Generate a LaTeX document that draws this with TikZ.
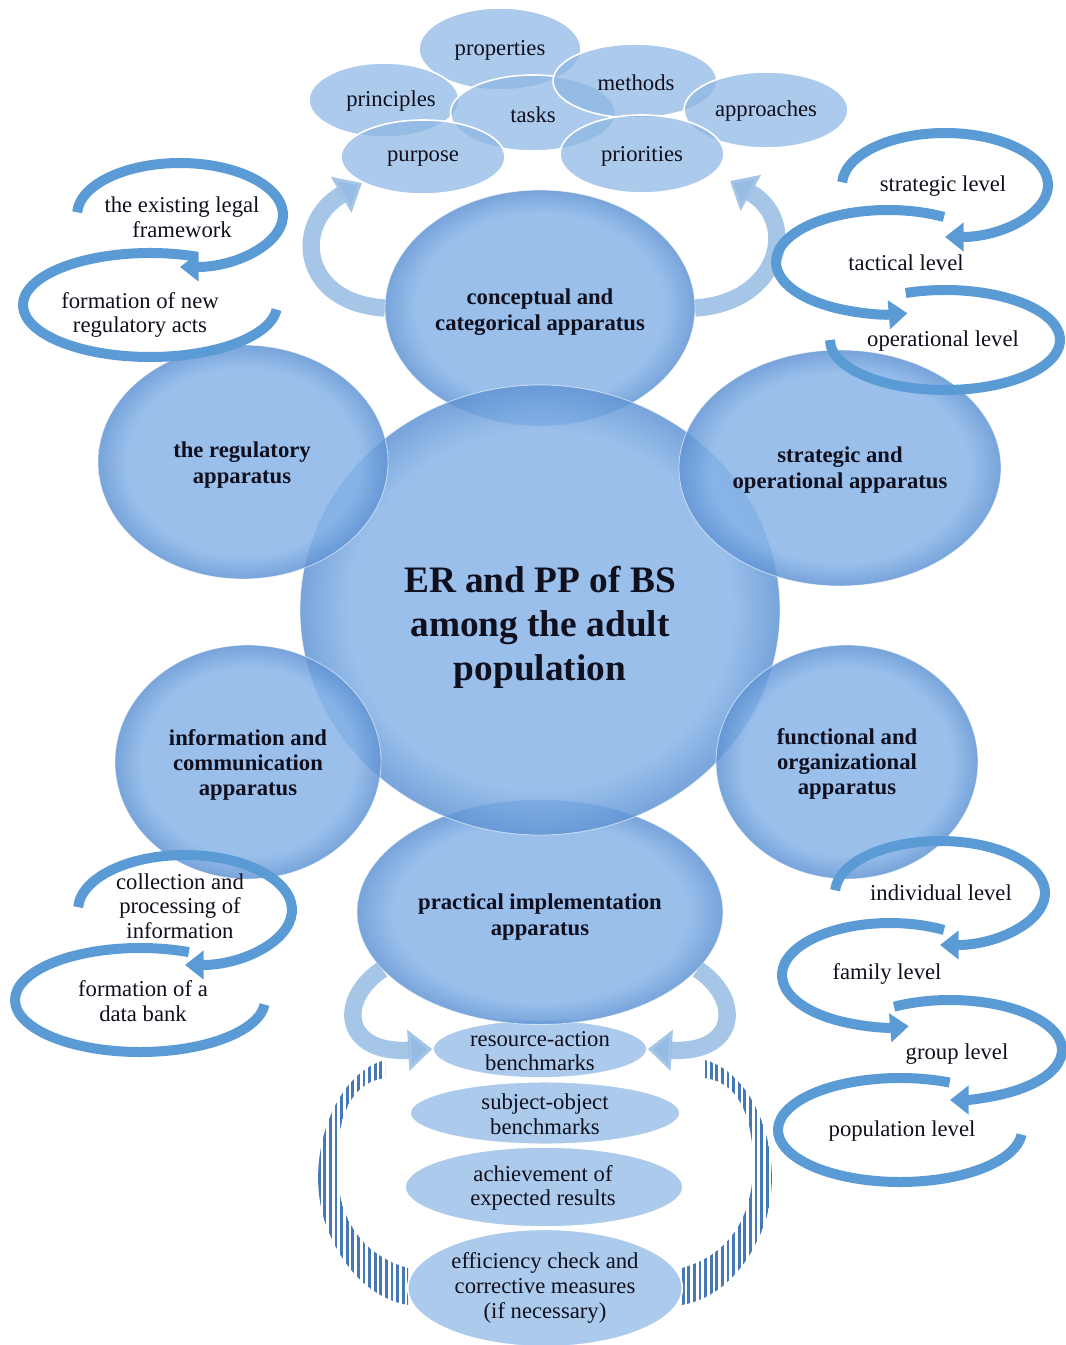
\documentclass[tikz,border=0pt]{standalone}
\usepackage{fontspec}
\setmainfont{Liberation Serif}
\usetikzlibrary{shapes.geometric,arrows.meta,patterns.meta}

\definecolor{bubin}{RGB}{136,180,232}
\definecolor{bubout}{RGB}{96,148,212}
\definecolor{smallfill}{RGB}{140,182,227}
\definecolor{loopblue}{RGB}{91,155,213}
\definecolor{ribbon}{RGB}{150,188,228}
\definecolor{stripe}{RGB}{70,120,185}
\definecolor{inkcol}{RGB}{15,15,30}

\pgfdeclareradialshading{bubble}{\pgfpoint{0bp}{0bp}}{color(0bp)=(bubin); color(20bp)=(bubin); color(25bp)=(bubout); color(50bp)=(bubout)}

\tikzset{
  bigell/.style={ellipse, shade, shading=bubble, fill opacity=0.85, draw=white, draw opacity=0.6, line width=0.6pt, inner sep=0pt},
  smallell/.style={ellipse, fill=smallfill, fill opacity=0.72, draw=white, line width=1.2pt, inner sep=0pt},
  boldtxt/.style={align=center, text=inkcol, font=\bfseries\fontsize{17}{19}\selectfont},
  plaintxt/.style={align=center, text=inkcol, font=\fontsize{17}{18.5}\selectfont},
  looparrow/.style={draw=loopblue, line width=7.5pt, -{Triangle[length=14pt,width=21pt]}},
  loopline/.style={draw=loopblue, line width=7.5pt},
  ribbonarrow/.style={draw=ribbon, draw opacity=0.85, line width=13pt, -{Triangle[length=18pt,width=30pt]}},
  stripes/.style={pattern={Lines[angle=90,distance=4.2pt,line width=2pt]}, pattern color=stripe},
}

\begin{document}
\begin{tikzpicture}[x=0.75pt,y=0.75pt,yscale=-1,xscale=1]
\path[use as bounding box] (0,0) rectangle (1065,1345);

% Ellipse Nodes (top)
\node[smallell, minimum width=121.5pt, minimum height=61.5pt] (properties) at (500,49) {};
\node[smallell, minimum width=112.5pt, minimum height=55.5pt] (principles) at (384,100) {};
\node[smallell, minimum width=123.75pt, minimum height=57pt] (tasks) at (533,113) {};
\node[smallell, minimum width=123pt, minimum height=55.5pt] (methods) at (635,81) {};
\node[smallell, minimum width=123pt, minimum height=57pt] (approaches) at (766,110) {};
\node[smallell, minimum width=123pt, minimum height=55.5pt] (purpose) at (423,157) {};
\node[smallell, minimum width=123pt, minimum height=58.5pt] (priorities) at (642,154) {};
\coordinate (purpose-tip) at (362,183);
\coordinate (prio-tip) at (730,181);

% Connection
\draw[ribbonarrow] (385,308) .. controls +(-85,-5) and +(-70,40) .. (purpose-tip);
\draw[ribbonarrow] (695,308) .. controls +(85,-5) and +(70,40) .. (prio-tip);

% Stripes
\path[stripes] (385,1060) .. controls (330,1075) and (300,1170) .. (330,1235) .. controls (350,1280) and (380,1300) .. (408,1305) -- (408,1268) .. controls (372,1258) and (339,1230) .. (337,1170) .. controls (336,1110) and (355,1082) .. (385,1078) -- cycle;
\path[stripes] (705,1060) .. controls (760,1075) and (790,1170) .. (760,1235) .. controls (740,1280) and (710,1300) .. (682,1305) -- (682,1268) .. controls (718,1258) and (751,1230) .. (753,1170) .. controls (754,1110) and (735,1082) .. (705,1078) -- cycle;

% Ellipse Nodes (bottom)
\node[smallell, minimum width=160.5pt, minimum height=43.5pt] (resact) at (540,1049) {};
\node[smallell, minimum width=202.5pt, minimum height=47pt] (subjobj) at (545,1113) {};
\node[smallell, minimum width=208.5pt, minimum height=60pt] (achieve) at (544,1187) {};
\node[smallell, minimum width=206pt, minimum height=88pt] (effic) at (545,1288) {};

% Ellipse Nodes (apparatus)
\node[bigell, minimum width=274.5pt, minimum height=168.75pt] (practical) at (540,912) {};
% Connection
\draw[ribbonarrow] (practical.200) .. controls +(-45,30) and +(-90,5) .. (resact.west);
\draw[ribbonarrow] (practical.-20) .. controls +(45,30) and +(90,5) .. (resact.east);
\node[bigell, minimum width=232.5pt, minimum height=177pt] (concept) at (540,308) {};
\node[bigell, minimum width=360pt, minimum height=337.5pt] (core) at (540,610) {};
\node[bigell, minimum width=217.5pt, minimum height=175.5pt] (regul) at (243,462) {};
\node[bigell, minimum width=241.5pt, minimum height=177pt] (strat) at (840,468) {};
\node[bigell, minimum width=199.5pt, minimum height=175.5pt] (inform) at (248,762) {};
\node[bigell, minimum width=196.5pt, minimum height=175.5pt] (funct) at (847,762) {};

% Loops
\coordinate (legal-c) at (180,215);
\coordinate (acts-c) at (150,305);
\coordinate (stratlvl-c) at (945,185);
\coordinate (tactlvl-c) at (888,262);
\coordinate (operlvl-c) at (945,340);
\coordinate (collect-c) at (185,910);
\coordinate (databank-c) at (140,1000);
\coordinate (indiv-c) at (940,893);
\coordinate (family-c) at (890,975);
\coordinate (group-c) at (950,1050);
\coordinate (popul-c) at (900,1130);
\draw[loopline] ([shift={(292:127 and 52)}]acts-c) arc[start angle=292, end angle=5, x radius=127, y radius=52];
\draw[looparrow] ([shift={(183:103 and 52)}]legal-c) arc[start angle=183, end angle=450, x radius=103, y radius=52];
\draw[looparrow] ([shift={(183:103 and 52)}]stratlvl-c) arc[start angle=183, end angle=450, x radius=103, y radius=52];
\draw[loopline] ([shift={(250:115 and 50)}]operlvl-c) arc[start angle=250, end angle=540, x radius=115, y radius=50];
\draw[looparrow] ([shift={(300:112 and 52)}]tactlvl-c) arc[start angle=300, end angle=80, x radius=112, y radius=52];
\draw[loopline] ([shift={(293:125 and 52)}]databank-c) arc[start angle=293, end angle=5, x radius=125, y radius=52];
\draw[looparrow] ([shift={(183:107 and 55)}]collect-c) arc[start angle=183, end angle=450, x radius=107, y radius=55];
\draw[looparrow] ([shift={(183:105 and 52)}]indiv-c) arc[start angle=183, end angle=450, x radius=105, y radius=52];
\draw[looparrow] ([shift={(240:112 and 50)}]group-c) arc[start angle=240, end angle=450, x radius=112, y radius=50];
\draw[looparrow] ([shift={(300:108 and 52)}]family-c) arc[start angle=300, end angle=80, x radius=108, y radius=52];
\draw[loopline] ([shift={(294:122 and 52)}]popul-c) arc[start angle=294, end angle=5, x radius=122, y radius=52];

% Text Node
\node[plaintxt] (properties-t) at (500,50) {properties};
\node[plaintxt] (principles-t) at (391,101) {principles};
\node[plaintxt] (tasks-t) at (533,115) {tasks};
\node[plaintxt] (methods-t) at (636,83) {methods};
\node[plaintxt] (approaches-t) at (766,111) {approaches};
\node[plaintxt] (purpose-t) at (423,159) {purpose};
\node[plaintxt] (priorities-t) at (642,156) {priorities};

\node[boldtxt] (concept-t) at (540,312) {conceptual and\\categorical apparatus};
\node[boldtxt] (regul-t) at (242,465) {the regulatory\\apparatus};
\node[boldtxt] (strat-t) at (840,470) {strategic and\\operational apparatus};
\node[boldtxt] (inform-t) at (248,765) {information and\\communication\\apparatus};
\node[boldtxt] (funct-t) at (847,764) {functional and\\organizational\\apparatus};
\node[boldtxt] (practical-t) at (540,917) {practical implementation\\apparatus};
\node[align=center, text=inkcol, font=\bfseries\fontsize{28}{33}\selectfont] (core-t) at (540,627) {ER and PP of BS\\among the adult\\population};

\node[plaintxt] (legal-t) at (182,217) {the existing legal\\framework};
\node[plaintxt] (acts-t) at (140,315) {formation of new\\regulatory acts};
\node[plaintxt] (stratlvl-t) at (943,186) {strategic level};
\node[plaintxt] (tactlvl-t) at (906,263) {tactical level};
\node[plaintxt] (operlvl-t) at (943,341) {operational level};
\node[plaintxt] (collect-t) at (180,906) {collection and\\processing of\\information};
\node[plaintxt] (databank-t) at (143,1001) {formation of a\\data bank};
\node[plaintxt] (indiv-t) at (941,893) {individual level};
\node[plaintxt] (family-t) at (887,974) {family level};
\node[plaintxt] (group-t) at (957,1054) {group level};
\node[plaintxt] (popul-t) at (902,1131) {population level};

\node[plaintxt] (resact-t) at (540,1051) {resource-action\\benchmarks};
\node[plaintxt] (subjobj-t) at (545,1114) {subject-object\\benchmarks};
\node[plaintxt] (achieve-t) at (543,1188) {achievement of\\expected results};
\node[plaintxt] (effic-t) at (545,1288) {efficiency check and\\corrective measures\\(if necessary)};

\end{tikzpicture}
\end{document}
